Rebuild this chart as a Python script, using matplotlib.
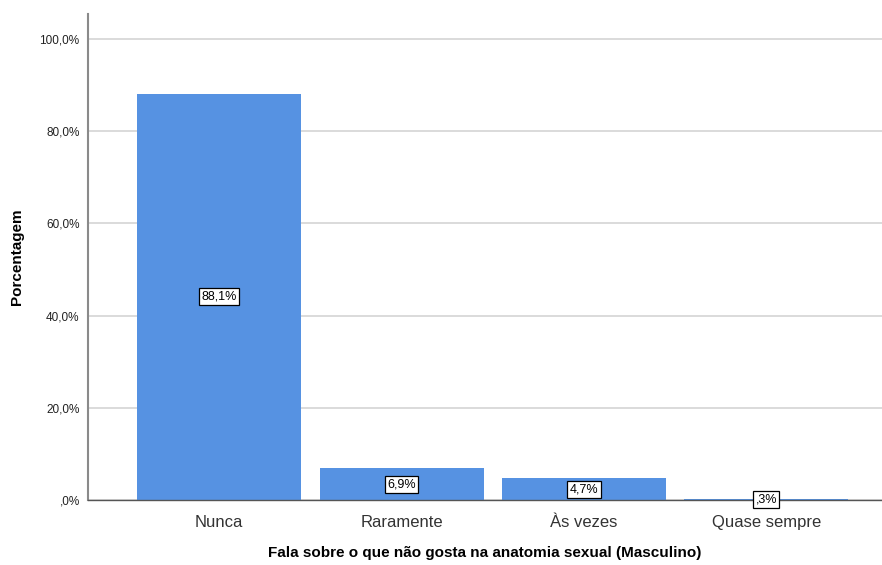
import matplotlib
matplotlib.use("Agg")
import matplotlib.pyplot as plt
from matplotlib.ticker import FixedLocator

categories = ["Nunca", "Raramente", "Às vezes", "Quase sempre"]
values = [88.1, 6.9, 4.7, 0.3]
value_labels = ["88,1%", "6,9%", "4,7%", ",3%"]
yticks = [0, 20, 40, 60, 80, 100]
ytick_labels = [",0%", "20,0%", "40,0%", "60,0%", "80,0%", "100,0%"]

plt.rcParams['font.family'] = ['Liberation Sans', 'DejaVu Sans']

fig = plt.figure(figsize=(8.82, 5.65), dpi=100)
ax = fig.add_axes([88/882, 65/565, 1 - 88/882, (500-14)/565])

x = list(range(len(categories)))
ax.bar(x, values, width=0.9, color="#5692e2", zorder=3)

ax.set_xlim(-0.72, 3.635)
ax.set_ylim(0, 105.4)
ax.yaxis.set_major_locator(FixedLocator(yticks))
ax.set_yticklabels(ytick_labels, fontsize=8.5, color="#222222")
ax.set_xticks(x)
ax.set_xticklabels(categories, fontsize=12, color="#333333")
ax.tick_params(axis='both', length=0)
ax.tick_params(axis='y', pad=6)
ax.tick_params(axis='x', pad=11)

ax.grid(axis='y', color="#d4d4d4", linewidth=1.2, zorder=0)
for s in ["top", "right"]:
    ax.spines[s].set_visible(False)
ax.spines["left"].set_color("#8a8a8a")
ax.spines["left"].set_linewidth(1.5)
ax.spines["bottom"].set_color("#555555")
ax.spines["bottom"].set_linewidth(1.0)
ax.spines["left"].set_zorder(4)
ax.spines["bottom"].set_zorder(4)

for xi, v, lab in zip(x, values, value_labels):
    ax.text(xi, v / 2, lab, ha='center', va='center', fontsize=9, zorder=5,
            bbox=dict(boxstyle='square,pad=0.2', facecolor='white', edgecolor='black', linewidth=0.9))

ax.set_xlabel("Fala sobre o que não gosta na anatomia sexual (Masculino)", fontsize=11,
              fontweight='bold', labelpad=11)
ax.set_ylabel("Porcentagem", fontsize=11, fontweight='bold', labelpad=11)

fig.savefig("out.png", dpi=100)
